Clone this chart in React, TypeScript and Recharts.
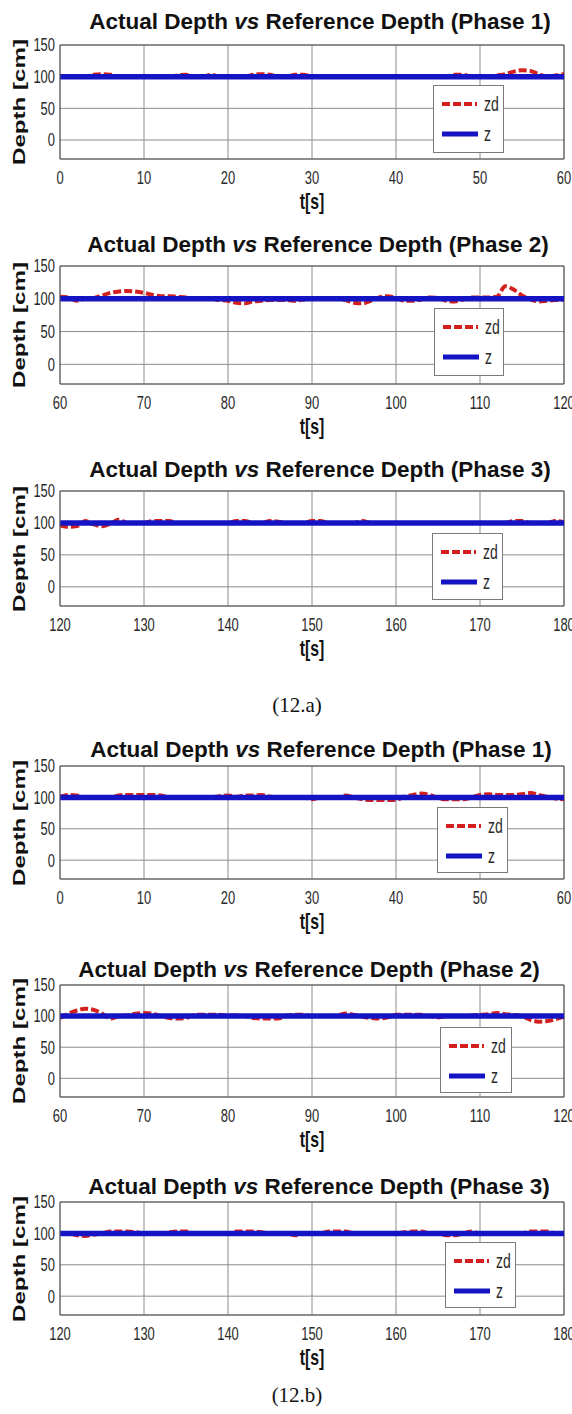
import React from 'react';
import { LineChart, Line, XAxis, YAxis, CartesianGrid, Legend, ReferenceLine } from 'recharts';

// ---------- data ----------
const REFERENCE_DEPTH = 100; // z : reference depth [cm]
const yTicks = [0, 50, 100, 150];
const ticksPhase1 = [0, 10, 20, 30, 40, 50, 60];
const ticksPhase2 = [60, 70, 80, 90, 100, 110, 120];
const ticksPhase3 = [120, 130, 140, 150, 160, 170, 180];

// (12.a) actual depth zd, one sample per second
const zdA1 = [
  100, 100, 100, 100, 103, 104, 103, 100, 100, 100,
  100, 100, 100, 100, 102, 103, 100, 100, 103, 100,
  100, 100, 100, 103, 104, 103, 100, 100, 103, 103,
  100, 100, 100, 100, 100, 100, 100, 100, 100, 101,
  100, 100, 101, 100, 100, 100, 100, 103, 103, 100,
  100, 100, 102, 104, 108, 110, 109, 104, 100, 102,
  104,
];
const zdA2 = [
  103, 102, 97, 100, 101, 105, 109, 111, 112, 111,
  109, 106, 104, 104, 103, 102, 100, 100, 100, 98,
  97, 94, 93, 96, 97, 98, 98, 98, 97, 99,
  100, 100, 100, 100, 98, 94, 93, 97, 102, 104,
  101, 97, 97, 99, 102, 101, 97, 96, 99, 102,
  102, 102, 103, 119, 114, 105, 99, 96, 97, 98,
  99,
];
const zdA3 = [
  96, 94, 95, 103, 98, 95, 99, 105, 100, 100,
  100, 103, 103, 103, 100, 100, 100, 100, 100, 100,
  100, 103, 103, 100, 100, 103, 102, 100, 100, 100,
  103, 103, 100, 100, 100, 100, 103, 100, 100, 100,
  100, 100, 100, 100, 100, 100, 100, 100, 100, 100,
  100, 100, 100, 100, 103, 103, 100, 100, 100, 103,
  101,
];
// (12.b)
const zdB1 = [
  101, 104, 103, 100, 100, 100, 100, 103, 104, 104,
  104, 104, 103, 100, 100, 100, 100, 100, 100, 102,
  103, 101, 103, 103, 104, 101, 100, 100, 100, 100,
  97, 100, 100, 100, 103, 100, 97, 96, 96, 96,
  96, 101, 104, 106, 104, 99, 97, 97, 97, 100,
  104, 105, 104, 104, 104, 105, 107, 104, 101, 98,
  97,
];
const zdB2 = [
  97, 104, 109, 112, 110, 104, 96, 100, 101, 104,
  105, 104, 100, 97, 96, 97, 102, 102, 102, 102,
  101, 101, 100, 97, 96, 96, 96, 101, 102, 102,
  100, 100, 100, 101, 104, 102, 99, 97, 96, 98,
  102, 102, 102, 102, 100, 98, 100, 100, 100, 101,
  102, 103, 105, 103, 102, 100, 94, 91, 92, 95,
  99,
];
const zdB3 = [
  100, 100, 97, 96, 98, 100, 103, 103, 103, 102,
  100, 100, 100, 102, 103, 103, 100, 100, 100, 100,
  100, 103, 103, 103, 102, 100, 100, 100, 97, 100,
  100, 100, 103, 103, 103, 100, 100, 100, 100, 100,
  100, 102, 103, 103, 100, 100, 97, 97, 100, 103,
  100, 100, 100, 100, 100, 100, 103, 103, 103, 100,
  100,
];

// ---------- styling / layout ----------
const SANS = '"Liberation Sans", Arial, Helvetica, sans-serif';
const SERIF = '"Liberation Serif", "Times New Roman", serif';
const ZD_COLOR = '#d41f1f';
const Z_COLOR = '#1414c4';
const GRID = '#8c8c8c';
const FRAME = '#555555';
const PAD_TOP = 14;

const buildRows = (start: number, zd: number[]) =>
  zd.map((v, i) => ({ t: start + i, zd: v, z: REFERENCE_DEPTH }));

type PanelCfg = {
  phase: number;
  start: number;
  ticks: number[];
  zd: number[];
  plotTop: number;
  plotBottom: number;
  titleY: number;
  titleCx: number;
  legend: { left: number; top: number; width: number; height: number };
};

const panels: PanelCfg[] = [
  { phase: 1, start: 0, ticks: ticksPhase1, zd: zdA1, plotTop: 45, plotBottom: 159, titleY: 22, titleCx: 320, legend: { left: 433, top: 85, width: 71, height: 68 } },
  { phase: 2, start: 60, ticks: ticksPhase2, zd: zdA2, plotTop: 266, plotBottom: 384, titleY: 245, titleCx: 318, legend: { left: 434, top: 308, width: 70, height: 68 } },
  { phase: 3, start: 120, ticks: ticksPhase3, zd: zdA3, plotTop: 491, plotBottom: 606, titleY: 470, titleCx: 320, legend: { left: 432, top: 533, width: 71, height: 67 } },
  { phase: 1, start: 0, ticks: ticksPhase1, zd: zdB1, plotTop: 766, plotBottom: 879, titleY: 750, titleCx: 321, legend: { left: 437, top: 807, width: 71, height: 66 } },
  { phase: 2, start: 60, ticks: ticksPhase2, zd: zdB2, plotTop: 985, plotBottom: 1097, titleY: 970, titleCx: 309, legend: { left: 440, top: 1027, width: 72, height: 66 } },
  { phase: 3, start: 120, ticks: ticksPhase3, zd: zdB3, plotTop: 1202, plotBottom: 1315, titleY: 1187, titleCx: 319, legend: { left: 445, top: 1242, width: 71, height: 66 } },
];

const XTick = (props: any) => {
  const { x, y, payload } = props;
  return (
    <text
      x={0}
      y={0}
      transform={`translate(${x},${y + 19}) scale(0.7,1)`}
      textAnchor="middle"
      dominantBaseline="central"
      fontSize={18.5}
      fontFamily={SANS}
      fill="#2a2a2a"
    >
      {payload.value}
    </text>
  );
};

const YTick = (props: any) => {
  const { x, y, payload } = props;
  return (
    <text
      x={0}
      y={0}
      transform={`translate(${x - 5},${y}) scale(0.7,1)`}
      textAnchor="end"
      dominantBaseline="central"
      fontSize={18.5}
      fontFamily={SANS}
      fill="#2a2a2a"
    >
      {payload.value}
    </text>
  );
};

const makeLegend = (w: number, h: number) => () => (
  <svg width={w} height={h} style={{ display: 'block' }}>
    <rect x={0.5} y={0.5} width={w - 1} height={h - 1} fill="#ffffff" stroke="#7a7a7a" strokeWidth={1} />
    <line x1={9} x2={44} y1={19} y2={19} stroke={ZD_COLOR} strokeWidth={4} strokeDasharray="8 3" />
    <text transform="translate(51,19) scale(0.7,1)" dominantBaseline="central" fontSize={20} fontFamily={SANS} fill="#2a2a2a">zd</text>
    <line x1={9} x2={45} y1={49} y2={49} stroke={Z_COLOR} strokeWidth={5} />
    <text transform="translate(51,49) scale(0.7,1)" dominantBaseline="central" fontSize={20} fontFamily={SANS} fill="#2a2a2a">z</text>
  </svg>
);

const Panel = ({ p }: { p: PanelCfg }) => {
  const plotH = p.plotBottom - p.plotTop;
  const rows = buildRows(p.start, p.zd);
  const end = p.start + 60;
  const centerY = (p.plotTop + p.plotBottom) / 2;
  const chartH = plotH + 30 + PAD_TOP;
  return (
    <>
      <div
        style={{
          position: 'absolute', left: p.titleCx - 300, width: 600, top: p.titleY - 14, height: 28,
          lineHeight: '28px', textAlign: 'center', fontFamily: SANS, fontWeight: 700, fontSize: 22.5,
          color: '#111', whiteSpace: 'nowrap',
        }}
      >
        Actual Depth <i>vs</i> Reference Depth (Phase {p.phase})
      </div>
      <div
        style={{
          position: 'absolute', left: 20 - 70, width: 140, top: centerY - 12, height: 24, lineHeight: '24px',
          textAlign: 'center', fontFamily: SANS, fontWeight: 700, fontSize: 17, color: '#111',
          whiteSpace: 'nowrap', transform: 'rotate(-90deg) scaleX(1.42)',
        }}
      >
        Depth [cm]
      </div>
      <div
        style={{
          position: 'absolute', left: 312 - 40, width: 80, top: p.plotBottom + 43 - 14, height: 28, lineHeight: '28px',
          textAlign: 'center', fontFamily: SANS, fontWeight: 700, fontSize: 22, color: '#111',
          whiteSpace: 'nowrap', transform: 'scaleX(0.72)',
        }}
      >
        t[s]
      </div>
      <div style={{ position: 'absolute', left: 0, top: p.plotTop - PAD_TOP, width: 572, height: chartH }}>
        <LineChart width={572} height={chartH} data={rows} margin={{ top: PAD_TOP, right: 8, bottom: 0, left: 0 }}>
          <CartesianGrid stroke={GRID} strokeWidth={1} />
          <XAxis
            dataKey="t"
            type="number"
            domain={[p.start, end]}
            ticks={p.ticks}
            interval={0}
            height={30}
            tickLine={false}
            tickSize={0}
            tickMargin={0}
            axisLine={{ stroke: FRAME }}
            tick={<XTick />}
            allowDataOverflow
          />
          <YAxis
            type="number"
            domain={[-30, 150]}
            ticks={yTicks}
            interval={0}
            width={60}
            tickLine={false}
            tickSize={0}
            tickMargin={0}
            axisLine={{ stroke: FRAME }}
            tick={<YTick />}
            allowDataOverflow
          />
          <ReferenceLine y={150} stroke={FRAME} strokeWidth={1} />
          <ReferenceLine x={end} stroke={FRAME} strokeWidth={1} />
          <Line
            dataKey="zd"
            name="zd"
            type="monotone"
            stroke={ZD_COLOR}
            strokeWidth={4}
            strokeDasharray="8 3"
            dot={false}
            isAnimationActive={false}
          />
          <Line
            dataKey="z"
            name="z"
            type="linear"
            stroke={Z_COLOR}
            strokeWidth={5.5}
            dot={false}
            isAnimationActive={false}
          />
          <Legend
            layout="horizontal"
            verticalAlign="middle"
            align="center"
            content={makeLegend(p.legend.width, p.legend.height)}
            wrapperStyle={{
              left: p.legend.left,
              top: p.legend.top - p.plotTop + PAD_TOP,
              width: p.legend.width,
              height: p.legend.height,
            }}
          />
        </LineChart>
      </div>
    </>
  );
};

export default function App() {
  return (
    <div
      style={{
        position: 'absolute', left: 0, top: 0, width: 572, height: 1414, background: '#ffffff', overflow: 'hidden',
      }}
    >
      {panels.map((p, i) => (
        <Panel key={i} p={p} />
      ))}
      <div
        style={{
          position: 'absolute', left: 297 - 60, width: 120, top: 705 - 13, height: 26, lineHeight: '26px',
          textAlign: 'center', fontFamily: SERIF, fontSize: 21, color: '#111',
        }}
      >
        (12.a)
      </div>
      <div
        style={{
          position: 'absolute', left: 297 - 60, width: 120, top: 1395 - 13, height: 26, lineHeight: '26px',
          textAlign: 'center', fontFamily: SERIF, fontSize: 21, color: '#111',
        }}
      >
        (12.b)
      </div>
    </div>
  );
}
